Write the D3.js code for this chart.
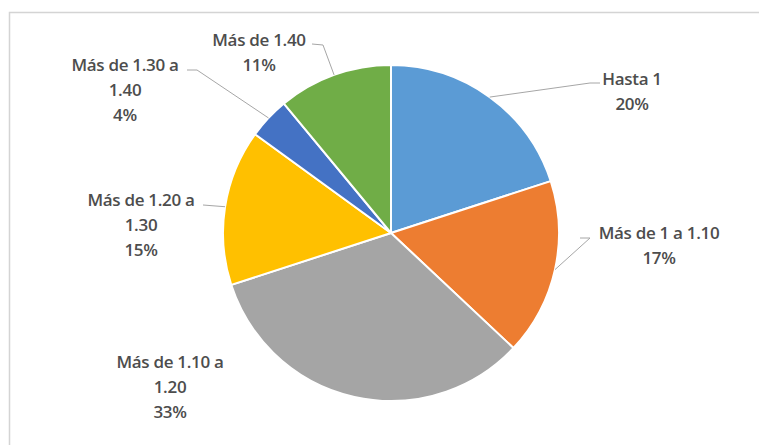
<!DOCTYPE html>
<html>
<head>
<meta charset="utf-8">
<script src="https://cdn.jsdelivr.net/npm/d3@7"></script>
<style>
  html, body { margin: 0; padding: 0; background: #fff; }
  svg { display: block; }
</style>
</head>
<body>
<svg id="chart" width="759" height="445"></svg>
<script>
// Distribution by range (share of total, %)
const categories = [
  "Hasta 1",
  "Más de 1 a 1.10",
  "Más de 1.10 a 1.20",
  "Más de 1.20 a 1.30",
  "Más de 1.30 a 1.40",
  "Más de 1.40"
];
const values = [20, 17, 33, 15, 4, 11];
const colors = ["#5B9BD5", "#ED7D31", "#A5A5A5", "#FFC000", "#4472C4", "#70AD47"];

const W = 759, H = 445;
const cx = 391, cy = 233, R = 168;

const svg = d3.select("#chart");

// chart area frame
svg.append("rect")
  .attr("x", 9.5).attr("y", 12.5)
  .attr("width", W + 20).attr("height", H + 20)
  .attr("fill", "#fff")
  .attr("stroke", "#d4d4d4").attr("stroke-width", 1.5);

const data = categories.map((c, i) => ({ name: c, value: values[i], color: colors[i] }));
const total = d3.sum(values);

const pie = d3.pie().value(d => d.value).sort(null);
const arcs = pie(data);
const arc = d3.arc().innerRadius(0).outerRadius(R);

const g = svg.append("g").attr("transform", `translate(${cx},${cy})`);
g.selectAll("path.slice")
  .data(arcs)
  .join("path")
  .attr("class", "slice")
  .attr("d", arc)
  .attr("fill", d => d.data.color)
  .attr("stroke", "#fff")
  .attr("stroke-width", 2)
  .attr("stroke-linejoin", "round");

// label placement: text centre x, first baseline y, wrap point, leader elbow
const labelLayout = [
  { x: 632, y: 85,  wrap: null, elbow: [[590, 83], [600, 83]] },
  { x: 659, y: 239, wrap: null, elbow: [[590, 238], [580, 238]] },
  { x: 170, y: 368, wrap: 2,    elbow: null },
  { x: 141, y: 206, wrap: 2,    elbow: [[203, 205]] },
  { x: 125, y: 71,  wrap: 2,    elbow: [[197, 70], [187, 70]] },
  { x: 259, y: 46,  wrap: null, elbow: [[323, 45], [312, 44]] }
];
const lineGap = 25;
const pct = d3.format(".0%");

// leader lines start on the slice edge at the slice's mid-angle
const leaders = svg.append("g")
  .attr("fill", "none").attr("stroke", "#a6a6a6").attr("stroke-width", 1);
arcs.forEach((a, i) => {
  const L = labelLayout[i];
  if (!L.elbow) return;
  const mid = (a.startAngle + a.endAngle) / 2;
  const p0 = [cx + R * Math.sin(mid), cy - R * Math.cos(mid)];
  leaders.append("path").attr("d", d3.line()([p0, ...L.elbow]));
});

const labels = svg.append("g")
  .attr("font-family", "'Open Sans', 'Liberation Sans', sans-serif")
  .attr("font-size", 17)
  .attr("font-weight", 600)
  .attr("letter-spacing", -0.3)
  .attr("fill", "#4d4d4d")
  .attr("text-anchor", "middle");

arcs.forEach((a, i) => {
  const L = labelLayout[i];
  const words = a.data.name.split(" ");
  let lines;
  if (L.wrap) {
    lines = [words.slice(0, words.length - L.wrap + 1).join(" "),
             words.slice(words.length - L.wrap + 1).join(" ")];
  } else {
    lines = [a.data.name];
  }
  lines.push(pct(a.data.value / total));
  const t = labels.append("text").attr("x", L.x).attr("y", L.y);
  lines.forEach((s, k) => {
    t.append("tspan").attr("x", L.x).attr("y", L.y + k * lineGap).text(s);
  });
});
</script>
</body>
</html>
